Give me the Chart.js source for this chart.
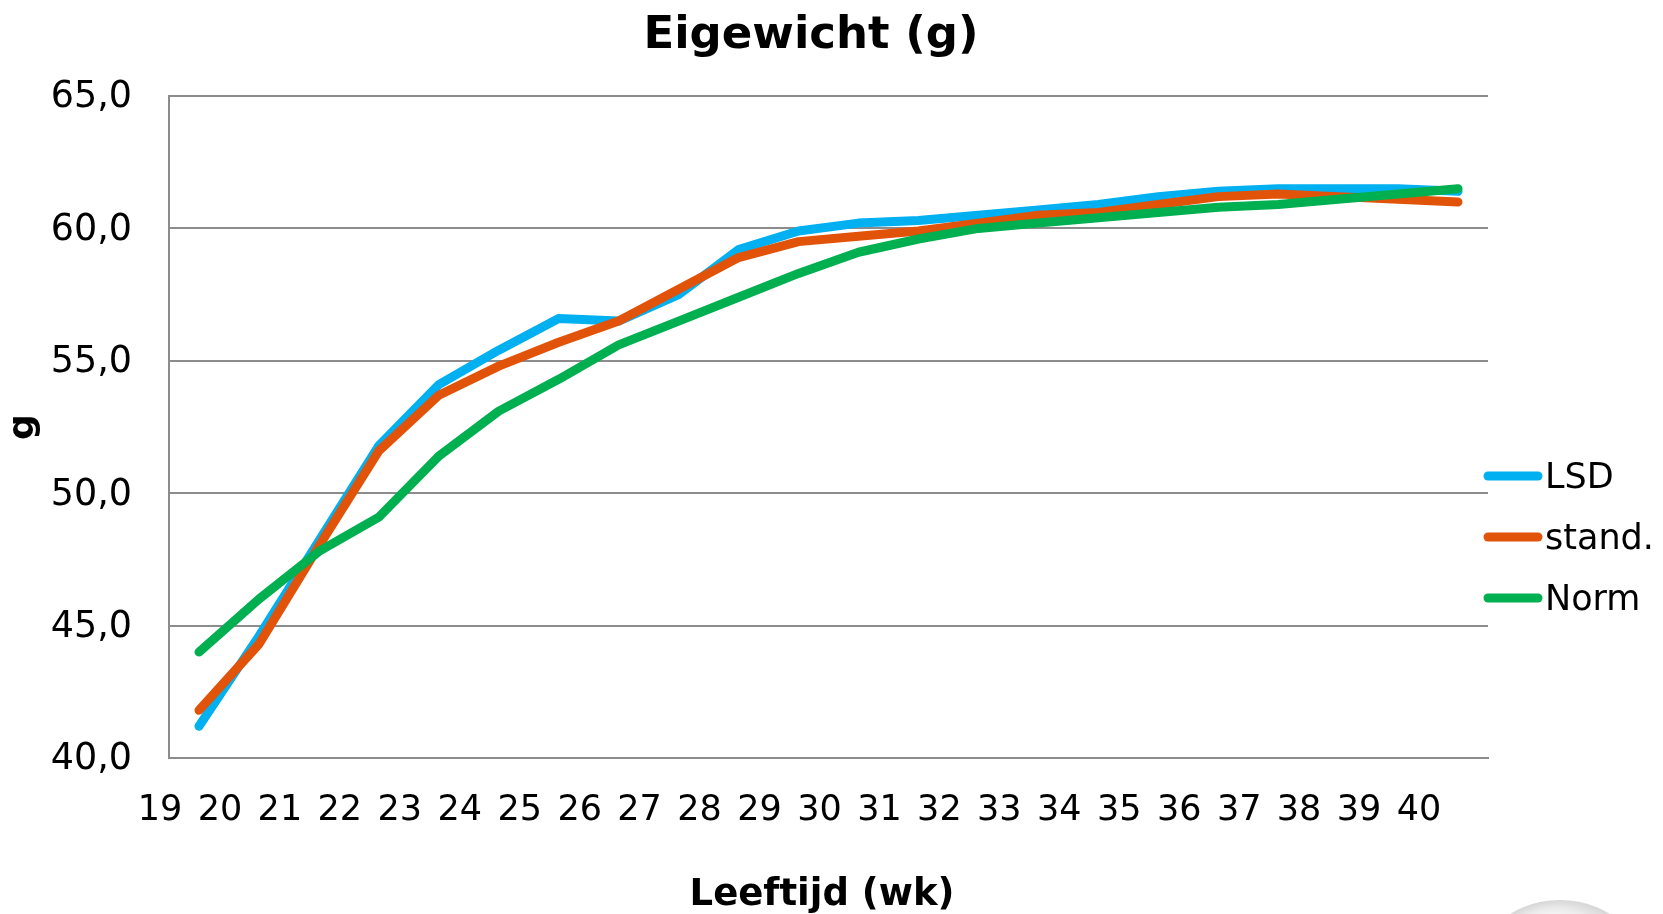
<!DOCTYPE html>
<html>
<head>
<meta charset="utf-8">
<title>Eigewicht (g)</title>
<script src="https://cdn.jsdelivr.net/npm/chart.js@4.4.1/dist/chart.umd.min.js"></script>
<style>
  html, body { margin: 0; padding: 0; background: #ffffff; }
  #wrap { position: relative; width: 1663px; height: 914px; }
</style>
</head>
<body>
<div id="wrap"><canvas id="chart" width="1663" height="914"></canvas></div>
<script>
// Egg weight per week of age (g)
const chartTitle = 'Eigewicht (g)';
const xTitle = 'Leeftijd (wk)';
const yTitle = 'g';
const weeks = ['19','20','21','22','23','24','25','26','27','28','29','30','31','32','33','34','35','36','37','38','39','40'];
const lsd   = [41.2, 44.6, 48.2, 51.8, 54.1, 55.4, 56.6, 56.5, 57.5, 59.2, 59.9, 60.2, 60.3, 60.5, 60.7, 60.9, 61.2, 61.4, 61.5, 61.5, 61.5, 61.4];
const stand = [41.8, 44.3, 48.0, 51.6, 53.7, 54.8, 55.7, 56.5, 57.7, 58.9, 59.5, 59.7, 59.9, 60.2, 60.5, 60.6, 60.9, 61.2, 61.3, 61.2, 61.1, 61.0];
const norm  = [44.0, 46.0, 47.8, 49.1, 51.4, 53.1, 54.3, 55.6, 56.5, 57.4, 58.3, 59.1, 59.6, 60.0, 60.2, 60.4, 60.6, 60.8, 60.9, 61.1, 61.3, 61.5];
const seriesNames = ['LSD', 'stand.', 'Norm'];
const seriesColors = ['#00B0F0', '#E2530A', '#00B050'];

const FONT = "'DejaVu Sans', Verdana, sans-serif";
const GRID = '#8c8c8c';

// Chart heading and x-axis caption
const captions = {
  id: 'captions',
  afterDraw(chart) {
    const ctx = chart.ctx;
    ctx.save();
    ctx.fillStyle = '#000';
    ctx.textAlign = 'center';
    ctx.textBaseline = 'middle';
    ctx.font = 'bold 45px ' + FONT;
    ctx.fillText(chartTitle, 811, 36);
    ctx.font = 'bold 37px ' + FONT;
    ctx.fillText(xTitle, 822, 895);
    ctx.restore();
  }
};

// Legend on the right: a short thick line followed by the series name
const sideLegend = {
  id: 'sideLegend',
  afterDraw(chart) {
    const ctx = chart.ctx;
    ctx.save();
    chart.data.datasets.forEach((ds, i) => {
      const y = 476 + 61 * i;
      ctx.strokeStyle = ds.borderColor;
      ctx.lineWidth = 9;
      ctx.lineCap = 'round';
      ctx.beginPath();
      ctx.moveTo(1488, y);
      ctx.lineTo(1538, y);
      ctx.stroke();
      ctx.fillStyle = '#000';
      ctx.font = '35px ' + FONT;
      ctx.textAlign = 'left';
      ctx.textBaseline = 'middle';
      ctx.fillText(ds.label, 1545, y + 3);
    });
    ctx.restore();
  }
};

// Soft grey disc peeking in at the bottom-right corner
const cornerDisc = {
  id: 'cornerDisc',
  beforeDraw(chart) {
    const ctx = chart.ctx;
    ctx.save();
    const cx = 1560, cy = 996, r = 96;
    const g = ctx.createRadialGradient(cx - 10, cy - 70, 5, cx, cy, r);
    g.addColorStop(0, '#fcfcfc');
    g.addColorStop(0.6, '#ebebeb');
    g.addColorStop(1, '#d6d6d6');
    ctx.fillStyle = g;
    ctx.beginPath();
    ctx.arc(cx, cy, r, 0, Math.PI * 2);
    ctx.fill();
    ctx.restore();
  }
};

const seriesData = [lsd, stand, norm];
const drawOrder = [2, 1, 0];

new Chart(document.getElementById('chart'), {
  type: 'line',
  data: {
    labels: weeks,
    datasets: seriesData.map((d, i) => ({
      label: seriesNames[i],
      data: d,
      borderColor: seriesColors[i],
      backgroundColor: seriesColors[i],
      borderWidth: 9,
      borderCapStyle: 'round',
      borderJoinStyle: 'round',
      pointRadius: 0,
      pointHoverRadius: 0,
      tension: 0,
      fill: false,
      order: drawOrder[i]
    }))
  },
  options: {
    responsive: false,
    animation: false,
    events: [],
    layout: { padding: { top: 96, right: 175, bottom: 0, left: 0 } },
    plugins: {
      legend: { display: false },
      title: { display: false },
      tooltip: { enabled: false }
    },
    scales: {
      x: {
        type: 'category',
        offset: true,
        grid: { display: false, drawTicks: false },
        border: { display: true, color: GRID, width: 2 },
        ticks: {
          color: '#000',
          font: { family: FONT, size: 35 },
          labelOffset: -39,
          padding: 32,
          maxRotation: 0,
          minRotation: 0,
          autoSkip: false
        },
        afterFit(scale) { scale.height = 156; }
      },
      y: {
        min: 40,
        max: 65,
        grid: { color: GRID, lineWidth: 2, drawTicks: false },
        border: { display: true, color: GRID, width: 2 },
        ticks: {
          stepSize: 5,
          color: '#000',
          font: { family: FONT, size: 36.5 },
          padding: 37,
          labelOffset: 2,
          callback: v => v.toFixed(1).replace('.', ',')
        },
        title: {
          display: true,
          text: yTitle,
          color: '#000',
          font: { family: FONT, size: 36, weight: 'bold', lineHeight: 1 },
          padding: { top: 6, bottom: 0 }
        },
        afterFit(scale) { scale.width = 169; }
      }
    }
  },
  plugins: [cornerDisc, captions, sideLegend]
});
</script>
</body>
</html>
